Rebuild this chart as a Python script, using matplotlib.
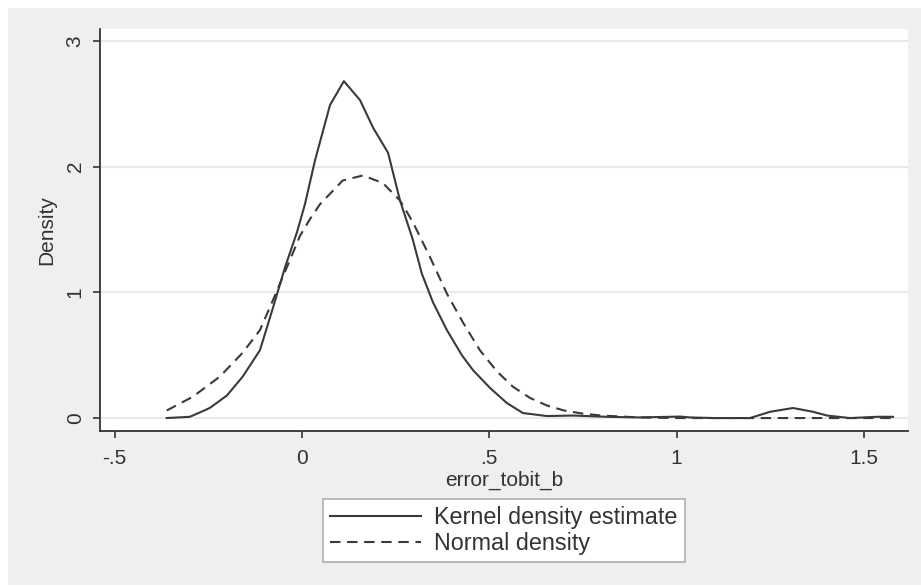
import matplotlib
matplotlib.use('Agg')
import matplotlib.pyplot as plt
from matplotlib.patches import Rectangle

plt.rcParams['font.family'] = ['Liberation Sans', 'DejaVu Sans']

# kernel density estimate
kde_x = [-0.361, -0.299, -0.246, -0.200, -0.158, -0.112, -0.077, -0.045, -0.013,
         0.008, 0.035, 0.075, 0.112, 0.155, 0.190, 0.230, 0.262, 0.296, 0.320,
         0.350, 0.387, 0.427, 0.457, 0.502, 0.547, 0.590, 0.654, 0.724, 0.814,
         0.900, 0.983, 1.010, 1.036, 1.100, 1.196, 1.250, 1.311, 1.364, 1.402,
         1.463, 1.535, 1.578]
kde_y = [0.0, 0.01, 0.08, 0.18, 0.33, 0.54, 0.88, 1.20, 1.48,
         1.70, 2.05, 2.49, 2.68, 2.53, 2.31, 2.11, 1.73, 1.42, 1.15,
         0.92, 0.70, 0.50, 0.38, 0.24, 0.12, 0.04, 0.016, 0.02, 0.01,
         0.005, 0.01, 0.012, 0.005, 0.0, 0.0, 0.05, 0.08, 0.05, 0.02,
         0.0, 0.01, 0.01]

# normal density
norm_x = [-0.361, -0.291, -0.219, -0.158, -0.112, -0.077, -0.040, -0.005, 0.021,
          0.048, 0.109, 0.163, 0.216, 0.262, 0.296, 0.342, 0.387, 0.430, 0.475,
          0.521, 0.563, 0.609, 0.654, 0.700, 0.750, 0.800, 0.900, 1.000, 1.200,
          1.400, 1.578]
norm_y = [0.06, 0.17, 0.33, 0.52, 0.70, 0.94, 1.20, 1.45, 1.58,
          1.70, 1.89, 1.93, 1.87, 1.73, 1.56, 1.28, 0.99, 0.76, 0.54,
          0.37, 0.25, 0.16, 0.10, 0.06, 0.035, 0.02, 0.005, 0.0, 0.0,
          0.0, 0.0]

xticks = [-0.5, 0, 0.5, 1, 1.5]
xticklabels = ['-.5', '0', '.5', '1', '1.5']
yticks = [0, 1, 2, 3]
yticklabels = ['0', '1', '2', '3']

W, H = 921, 586
fig = plt.figure(figsize=(W / 100, H / 100), dpi=100, facecolor='white')
# grey graph region
fig.patches.append(Rectangle((8 / W, 1 / H), 1 - 8 / W, 1 - 9 / H,
                             transform=fig.transFigure, facecolor='#efefef',
                             edgecolor='none', zorder=-10))

ax = fig.add_axes([100 / W, 1 - 431 / H, 808 / W, 402 / H])
ax.set_facecolor('white')

ax.plot(kde_x, kde_y, color='#3a3a3a', lw=1.5, label='Kernel density estimate')
ax.plot(norm_x, norm_y, color='#3a3a3a', lw=1.5, linestyle=(0, (5, 3.2)),
        label='Normal density')

ax.set_xlim(-0.539, 1.618)
ax.set_ylim(-0.103, 3.095)
for s in ['top', 'right']:
    ax.spines[s].set_visible(False)
for s in ['left', 'bottom']:
    ax.spines[s].set_color('#333333')
    ax.spines[s].set_linewidth(1.3)

ax.set_yticks(yticks)
ax.set_yticklabels(yticklabels, rotation=90, va='center')
ax.set_xticks(xticks)
ax.set_xticklabels(xticklabels)
ax.tick_params(axis='both', direction='out', length=5, width=1.2,
               color='#333333', labelsize=15, labelcolor='#333333')
ax.tick_params(axis='x', pad=8)
ax.tick_params(axis='y', pad=6)
ax.yaxis.grid(True, color='#e8e8e8', lw=1.5)
ax.set_axisbelow(True)

ax.set_xlabel('error_tobit_b', fontsize=15, color='#333333', labelpad=2)
ax.set_ylabel('Density', fontsize=15, color='#333333', labelpad=7)

leg = fig.legend(loc='center', bbox_to_anchor=(504 / W, 1 - 530.5 / H),
                 fontsize=16.8, frameon=True, fancybox=False,
                 handlelength=3.9, handletextpad=0.55, labelspacing=0.12,
                 borderpad=0.3, borderaxespad=0)
leg.get_frame().set_edgecolor('#b0b0b0')
leg.get_frame().set_linewidth(1.2)
leg.get_frame().set_facecolor('white')
leg.get_frame().set_alpha(1)
for t in leg.get_texts():
    t.set_color('#333333')

plt.savefig('out.png', dpi=100, facecolor=fig.get_facecolor())
